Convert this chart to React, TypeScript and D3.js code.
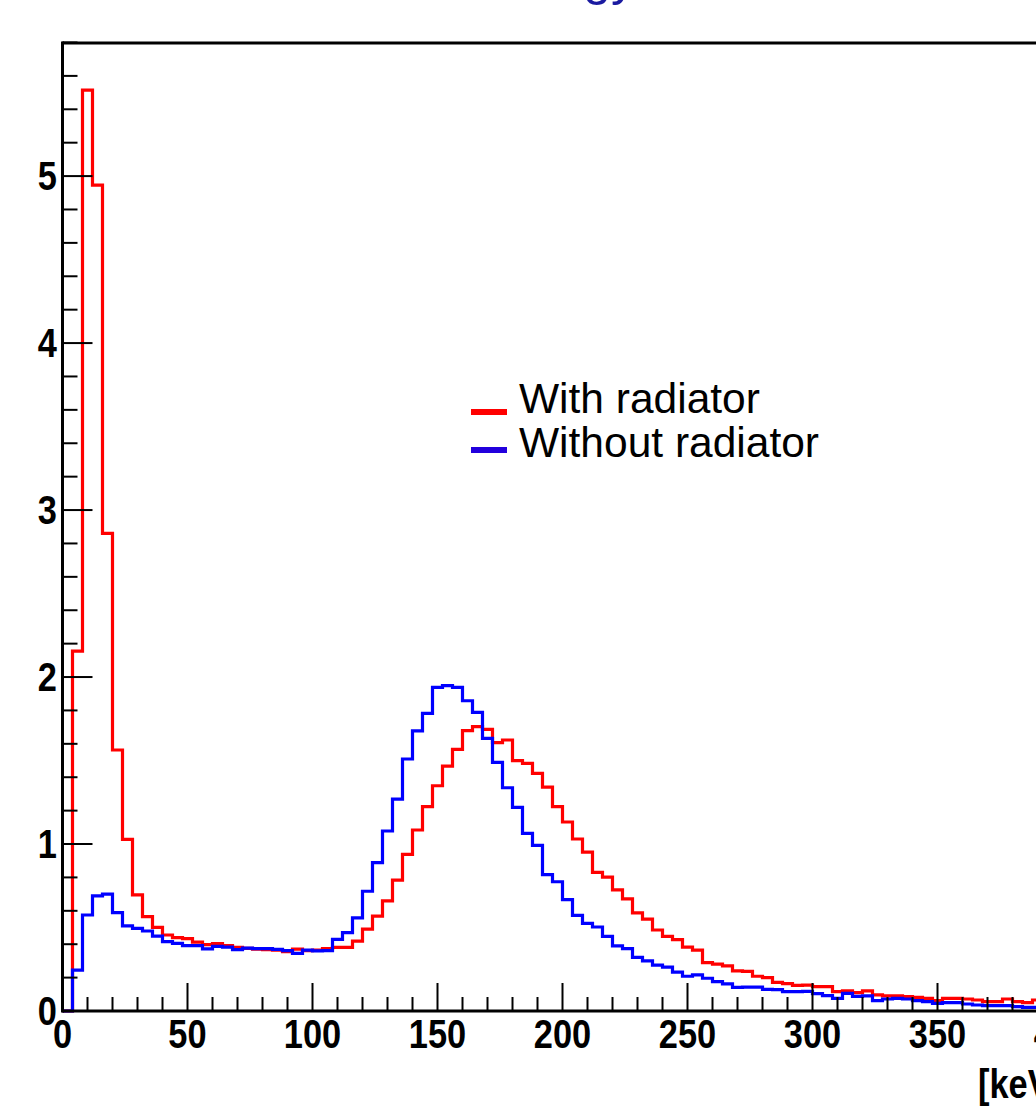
import React from "react";
import * as d3 from "d3";

const BIN_WIDTH = 4; // keV
const withRadiator = [
  0, 2.155, 5.515, 4.946, 2.86, 1.563, 1.028, 0.695, 0.565, 0.501,
  0.455, 0.439, 0.433, 0.413, 0.397, 0.403, 0.392, 0.381, 0.375, 0.37,
  0.368, 0.365, 0.355, 0.37, 0.361, 0.365, 0.373, 0.381, 0.381, 0.419,
  0.49, 0.568, 0.659, 0.784, 0.938, 1.084, 1.224, 1.349, 1.467, 1.567,
  1.679, 1.703, 1.687, 1.607, 1.623, 1.499, 1.483, 1.423, 1.341, 1.224,
  1.132, 1.03, 0.951, 0.83, 0.802, 0.725, 0.672, 0.588, 0.55, 0.485,
  0.447, 0.427, 0.383, 0.365, 0.29, 0.281, 0.27, 0.24, 0.237, 0.208,
  0.2, 0.172, 0.164, 0.153, 0.155, 0.146, 0.146, 0.116, 0.12, 0.11,
  0.12, 0.096, 0.09, 0.09, 0.086, 0.082, 0.076, 0.062, 0.076, 0.076,
  0.072, 0.066, 0.056, 0.056, 0.072, 0.056, 0.05, 0.066, 0.05, 0.05,
];
const withoutRadiator = [
  0, 0.245, 0.575, 0.689, 0.7, 0.589, 0.51, 0.495, 0.479, 0.449,
  0.415, 0.405, 0.392, 0.392, 0.372, 0.387, 0.383, 0.367, 0.376, 0.373,
  0.373, 0.369, 0.361, 0.345, 0.365, 0.36, 0.361, 0.429, 0.469, 0.558,
  0.717, 0.888, 1.078, 1.269, 1.509, 1.677, 1.782, 1.938, 1.948, 1.938,
  1.858, 1.788, 1.633, 1.489, 1.337, 1.22, 1.064, 0.992, 0.817, 0.774,
  0.667, 0.573, 0.525, 0.503, 0.447, 0.39, 0.373, 0.321, 0.3, 0.275,
  0.263, 0.233, 0.208, 0.216, 0.196, 0.176, 0.162, 0.141, 0.143, 0.143,
  0.13, 0.128, 0.116, 0.116, 0.118, 0.104, 0.092, 0.076, 0.106, 0.088,
  0.09, 0.062, 0.072, 0.076, 0.072, 0.062, 0.056, 0.046, 0.05, 0.05,
  0.042, 0.036, 0.032, 0.032, 0.032, 0.026, 0.022, 0.022, 0.02, 0.02,
];
const xMajorTicks = [0, 50, 100, 150, 200, 250, 300, 350, 400];
const yMajorTicks = [0, 1, 2, 3, 4, 5];
const legendLabels = ["With radiator", "Without radiator"];
const seriesColors = ["#ff0000", "#0000ff"];
const legendColors = ["#ff0000", "#2200dd"];
const xUnit = "[keV]";
const titleText = "Total energy";

const W = 1036;
const H = 1107;
const left = 62.5;
const right = 1062.5;
const top = 43;
const bottom = 1011;

export default function App() {
  const x = d3.scaleLinear().domain([0, 400]).range([left, right]);
  const y = d3.scaleLinear().domain([0, 5.797]).range([bottom, top]);

  const pathFor = (vals: number[]) => {
    const pts: [number, number][] = vals.map((v, i) => [i * BIN_WIDTH, v]);
    pts.push([vals.length * BIN_WIDTH, vals[vals.length - 1]]);
    return d3
      .line<[number, number]>()
      .x((d) => x(d[0]))
      .y((d) => y(d[1]))
      .curve(d3.curveStepAfter)(pts) as string;
  };

  const xMinor = d3.range(0, 401, 10).filter((v) => v % 50 !== 0);
  const yMinor = d3.range(0, 5.81, 0.2).filter((v) => Math.abs(v - Math.round(v)) > 1e-6);

  const tickFont = "'Liberation Sans', Arial, Helvetica, sans-serif";

  return (
    <svg
      width={W}
      height={H}
      style={{ position: "absolute", left: 0, top: 0, background: "#fff" }}
    >
      <rect x={0} y={0} width={W} height={H} fill="#fff" />
      {/* title (mostly cut off) */}
      <text
        x={636}
        y={-5}
        textAnchor="end"
        fontFamily={tickFont}
        fontSize={50}
        fill="#1a1aa0"
      >
        {titleText}
      </text>

      {/* histograms */}
      <path d={pathFor(withRadiator)} fill="none" stroke={seriesColors[0]} strokeWidth={3.2} />
      <path d={pathFor(withoutRadiator)} fill="none" stroke={seriesColors[1]} strokeWidth={3.2} />

      {/* frame */}
      <line x1={left} x2={right} y1={top} y2={top} stroke="#000" strokeWidth={3} />
      <line x1={left} x2={left} y1={top - 1.5} y2={bottom + 1.5} stroke="#000" strokeWidth={3} />
      <line x1={left} x2={right} y1={bottom} y2={bottom} stroke="#000" strokeWidth={3} />

      {/* y ticks */}
      {yMajorTicks.map((t) => (
        <line key={"ym" + t} x1={left} x2={left + 30} y1={y(t)} y2={y(t)} stroke="#000" strokeWidth={2} />
      ))}
      {yMinor.map((t) => (
        <line key={"yn" + t} x1={left} x2={left + 15} y1={y(t)} y2={y(t)} stroke="#000" strokeWidth={2} />
      ))}
      {/* x ticks */}
      {xMajorTicks.map((t) => (
        <line key={"xm" + t} x1={x(t)} x2={x(t)} y1={bottom} y2={bottom - 28} stroke="#000" strokeWidth={2} />
      ))}
      {xMinor.map((t) => (
        <line key={"xn" + t} x1={x(t)} x2={x(t)} y1={bottom} y2={bottom - 14} stroke="#000" strokeWidth={2} />
      ))}

      {/* y labels */}
      {yMajorTicks.map((t) => (
        <text
          key={"yl" + t}
          transform={`translate(57,${y(t) + 14}) scale(0.86,1)`}
          textAnchor="end"
          fontFamily={tickFont}
          fontWeight="bold"
          fontSize={40}
          fill="#000"
        >
          {t}
        </text>
      ))}
      {/* x labels */}
      {xMajorTicks.map((t) => (
        <text
          key={"xl" + t}
          transform={`translate(${x(t)},1048) scale(0.86,1)`}
          textAnchor="middle"
          fontFamily={tickFont}
          fontWeight="bold"
          fontSize={40}
          fill="#000"
        >
          {t}
        </text>
      ))}
      <text
        transform={`translate(978,1098) scale(0.86,1)`}
        fontFamily={tickFont}
        fontWeight="bold"
        fontSize={40}
        fill="#000"
      >
        {xUnit}
      </text>

      {/* legend */}
      {legendLabels.map((lab, i) => (
        <g key={lab}>
          <line
            x1={471}
            x2={507}
            y1={412 + i * 38}
            y2={412 + i * 38}
            stroke={legendColors[i]}
            strokeWidth={6}
          />
          <text
            x={519}
            y={413 + i * 44}
            fontFamily={tickFont}
            fontSize={42.5}
            fill="#000"
          >
            {lab}
          </text>
        </g>
      ))}
    </svg>
  );
}
